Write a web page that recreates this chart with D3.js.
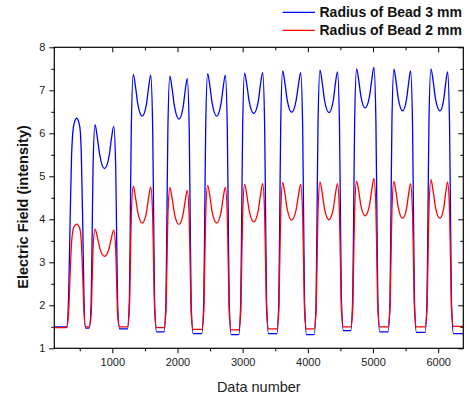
<!DOCTYPE html>
<html>
<head>
<meta charset="utf-8">
<script src="https://cdn.jsdelivr.net/npm/d3@7"></script>
<style>
  body { margin: 0; background: #fff; }
  svg { font-family: "Liberation Sans", Arial, sans-serif; }
</style>
</head>
<body>
<div id="chart"></div>
<script>
// knot points, one pulse per line
const dataNumber = [
  110, 300, 330, 352, 375, 410, 454, 500, 525, 546, 565, 588,
  645, 675, 690, 705, 735, 771, 808, 880, 951, 986, 1022, 1052, 1067, 1082, 1112,
  1232, 1262, 1277, 1292, 1322, 1356, 1390, 1458, 1524, 1556, 1589, 1619, 1634, 1649, 1679,
  1793, 1823, 1838, 1853, 1883, 1918, 1953, 2022, 2086, 2118, 2150, 2180, 2195, 2210, 2240,
  2373, 2403, 2418, 2433, 2463, 2498, 2532, 2601, 2668, 2701, 2734, 2764, 2779, 2794, 2824,
  2940, 2970, 2985, 3000, 3030, 3065, 3100, 3170, 3239, 3273, 3307, 3337, 3352, 3367, 3397,
  3524, 3554, 3569, 3584, 3614, 3649, 3683, 3752, 3821, 3856, 3890, 3920, 3935, 3950, 3980,
  4096, 4126, 4141, 4156, 4186, 4221, 4255, 4324, 4390, 4422, 4455, 4485, 4500, 4515, 4545,
  4658, 4688, 4703, 4718, 4748, 4781, 4814, 4880, 4947, 4981, 5014, 5044, 5059, 5074, 5104,
  5230, 5260, 5275, 5290, 5320, 5354, 5387, 5454, 5515, 5546, 5576, 5606, 5621, 5636, 5666,
  5798, 5828, 5843, 5858, 5888, 5923, 5957, 6026, 6085, 6115, 6144, 6174, 6189, 6204, 6234,
  6385
];

const bead3mm = [
  1.50, 1.50, 2.23, 3.93, 5.48, 6.20, 6.35, 6.16, 5.47, 3.91, 2.20, 1.47,
  1.47, 2.04, 3.60, 5.25, 6.20, 5.89, 5.49, 5.18, 5.47, 5.87, 6.16, 5.22, 3.57, 2.02, 1.45,
  1.45, 2.16, 4.11, 6.19, 7.37, 7.08, 6.69, 6.40, 6.68, 7.06, 7.35, 6.16, 4.07, 2.10, 1.38,
  1.38, 2.09, 4.06, 6.14, 7.33, 7.03, 6.63, 6.33, 6.61, 6.99, 7.27, 6.08, 4.01, 2.05, 1.34,
  1.34, 2.07, 4.06, 6.18, 7.39, 7.09, 6.70, 6.40, 6.69, 7.07, 7.35, 6.14, 4.03, 2.04, 1.32,
  1.32, 2.05, 4.06, 6.18, 7.40, 7.12, 6.74, 6.46, 6.74, 7.13, 7.41, 6.20, 4.07, 2.07, 1.34,
  1.34, 2.07, 4.09, 6.23, 7.45, 7.16, 6.78, 6.49, 6.77, 7.13, 7.41, 6.19, 4.06, 2.05, 1.32,
  1.32, 2.06, 4.09, 6.24, 7.47, 7.17, 6.78, 6.48, 6.76, 7.15, 7.43, 6.23, 4.12, 2.13, 1.41,
  1.41, 2.14, 4.15, 6.28, 7.50, 7.23, 6.86, 6.59, 6.87, 7.25, 7.53, 6.30, 4.15, 2.12, 1.38,
  1.38, 2.11, 4.13, 6.27, 7.49, 7.20, 6.81, 6.52, 6.80, 7.17, 7.45, 6.23, 4.11, 2.10, 1.37,
  1.37, 2.11, 4.13, 6.27, 7.50, 7.21, 6.81, 6.52, 6.79, 7.16, 7.43, 6.21, 4.08, 2.07, 1.34,
  1.34
];

const bead2mm = [
  1.48, 1.48, 1.84, 2.69, 3.46, 3.82, 3.89, 3.79, 3.46, 2.70, 1.86, 1.50,
  1.50, 1.77, 2.52, 3.32, 3.77, 3.58, 3.33, 3.14, 3.32, 3.57, 3.75, 3.30, 2.51, 1.77, 1.50,
  1.50, 1.89, 2.97, 4.12, 4.77, 4.51, 4.17, 3.91, 4.16, 4.50, 4.75, 4.10, 2.95, 1.87, 1.48,
  1.48, 1.87, 2.95, 4.09, 4.74, 4.48, 4.14, 3.88, 4.12, 4.43, 4.67, 4.02, 2.89, 1.83, 1.44,
  1.44, 1.84, 2.95, 4.12, 4.79, 4.53, 4.17, 3.91, 4.16, 4.50, 4.75, 4.09, 2.92, 1.83, 1.43,
  1.43, 1.84, 2.95, 4.13, 4.81, 4.55, 4.20, 3.94, 4.21, 4.56, 4.83, 4.15, 2.97, 1.86, 1.45,
  1.45, 1.86, 2.98, 4.17, 4.85, 4.59, 4.24, 3.98, 4.23, 4.56, 4.81, 4.14, 2.96, 1.85, 1.45,
  1.45, 1.86, 2.99, 4.19, 4.87, 4.61, 4.25, 3.99, 4.24, 4.58, 4.83, 4.16, 3.00, 1.90, 1.50,
  1.50, 1.91, 3.03, 4.21, 4.89, 4.65, 4.32, 4.08, 4.34, 4.69, 4.95, 4.26, 3.05, 1.91, 1.50,
  1.50, 1.91, 3.02, 4.20, 4.88, 4.62, 4.28, 4.02, 4.26, 4.59, 4.83, 4.16, 3.00, 1.90, 1.50,
  1.50, 1.91, 3.04, 4.24, 4.92, 4.65, 4.29, 4.02, 4.27, 4.62, 4.87, 4.20, 3.02, 1.91, 1.51,
  1.51
];

const xMajorTicks = [1000, 2000, 3000, 4000, 5000, 6000];
const xMinorTicks = [500, 1500, 2500, 3500, 4500, 5500];
const yMajorTicks = [1, 2, 3, 4, 5, 6, 7, 8];
const yMinorTicks = [1.5, 2.5, 3.5, 4.5, 5.5, 6.5, 7.5];

const seriesNames = ["Radius of Bead 3 mm", "Radius of Bead 2 mm"];
const seriesColors = ["#0000ff", "#ff0000"];

const width = 470, height = 400;
const margin = { top: 47.3, right: 6.7, bottom: 51.7, left: 54.3 };
const innerW = width - margin.left - margin.right;
const innerH = height - margin.top - margin.bottom;

const svg = d3.select("#chart").append("svg")
    .attr("width", width)
    .attr("height", height);

const g = svg.append("g")
    .attr("transform", `translate(${margin.left},${margin.top})`);

const x = d3.scaleLinear().domain([110, 6385]).range([0, innerW]);
const y = d3.scaleLinear().domain([1, 8]).range([innerH, 0]);

// clip lines to the frame
svg.append("defs").append("clipPath").attr("id", "plot")
  .append("rect").attr("width", innerW).attr("height", innerH);

const line = d3.line()
    .x((d) => x(d[0]))
    .y((d) => y(d[1]))
    .curve(d3.curveMonotoneX);

const plot = g.append("g").attr("clip-path", "url(#plot)");
[bead3mm, bead2mm].forEach((vals, i) => {
  plot.append("path")
    .datum(dataNumber.map((n, k) => [n, vals[k]]))
    .attr("fill", "none")
    .attr("stroke", seriesColors[i])
    .attr("stroke-width", 1.3)
    .attr("stroke-linejoin", "round")
    .attr("d", line);
});

// axes: bottom/left ticks outward, top/right mirrored inward
function styleAxis(sel) {
  sel.select(".domain").remove();
  sel.selectAll("line").attr("stroke", "#000").attr("stroke-width", 1);
  sel.selectAll("text").attr("fill", "#222").style("font-size", "11px");
}

g.append("g").attr("transform", `translate(0,${innerH})`)
  .call(d3.axisBottom(x).tickValues(xMajorTicks).tickSize(5).tickPadding(5).tickFormat(d3.format("d")))
  .call(styleAxis);
g.append("g").attr("transform", `translate(0,${innerH})`)
  .call(d3.axisBottom(x).tickValues(xMinorTicks).tickSize(3).tickFormat(""))
  .call(styleAxis);
g.append("g")
  .call(d3.axisTop(x).tickValues(xMajorTicks).tickSize(-5).tickFormat(""))
  .call(styleAxis);
g.append("g")
  .call(d3.axisTop(x).tickValues(xMinorTicks).tickSize(-3).tickFormat(""))
  .call(styleAxis);

g.append("g")
  .call(d3.axisLeft(y).tickValues(yMajorTicks).tickSize(5).tickPadding(4).tickFormat(d3.format("d")))
  .call(styleAxis);
g.append("g")
  .call(d3.axisLeft(y).tickValues(yMinorTicks).tickSize(3).tickFormat(""))
  .call(styleAxis);
g.append("g").attr("transform", `translate(${innerW},0)`)
  .call(d3.axisRight(y).tickValues(yMajorTicks).tickSize(-5).tickFormat(""))
  .call(styleAxis);
g.append("g").attr("transform", `translate(${innerW},0)`)
  .call(d3.axisRight(y).tickValues(yMinorTicks).tickSize(-3).tickFormat(""))
  .call(styleAxis);

g.append("rect")
  .attr("width", innerW).attr("height", innerH)
  .attr("fill", "none").attr("stroke", "#000").attr("stroke-width", 1.2);

// axis titles
svg.append("text")
  .attr("x", margin.left + innerW / 2)
  .attr("y", 392)
  .attr("text-anchor", "middle")
  .style("font-size", "14.5px")
  .attr("fill", "#222")
  .text("Data number");

svg.append("text")
  .attr("transform", "translate(28,207) rotate(-90)")
  .attr("text-anchor", "middle")
  .style("font-size", "14.5px")
  .style("font-weight", "bold")
  .attr("fill", "#111")
  .text("Electric Field (intensity)");

// legend
const legend = svg.append("g");
seriesNames.forEach((name, i) => {
  const ly = 12.3 + i * 18;
  legend.append("line")
    .attr("x1", 282.7).attr("x2", 315)
    .attr("y1", ly).attr("y2", ly)
    .attr("stroke", seriesColors[i]).attr("stroke-width", 1.3);
  legend.append("text")
    .attr("x", 319.5).attr("y", ly + 5)
    .style("font-size", "14px")
    .style("font-weight", "bold")
    .attr("fill", "#111")
    .text(name);
});
</script>
</body>
</html>
